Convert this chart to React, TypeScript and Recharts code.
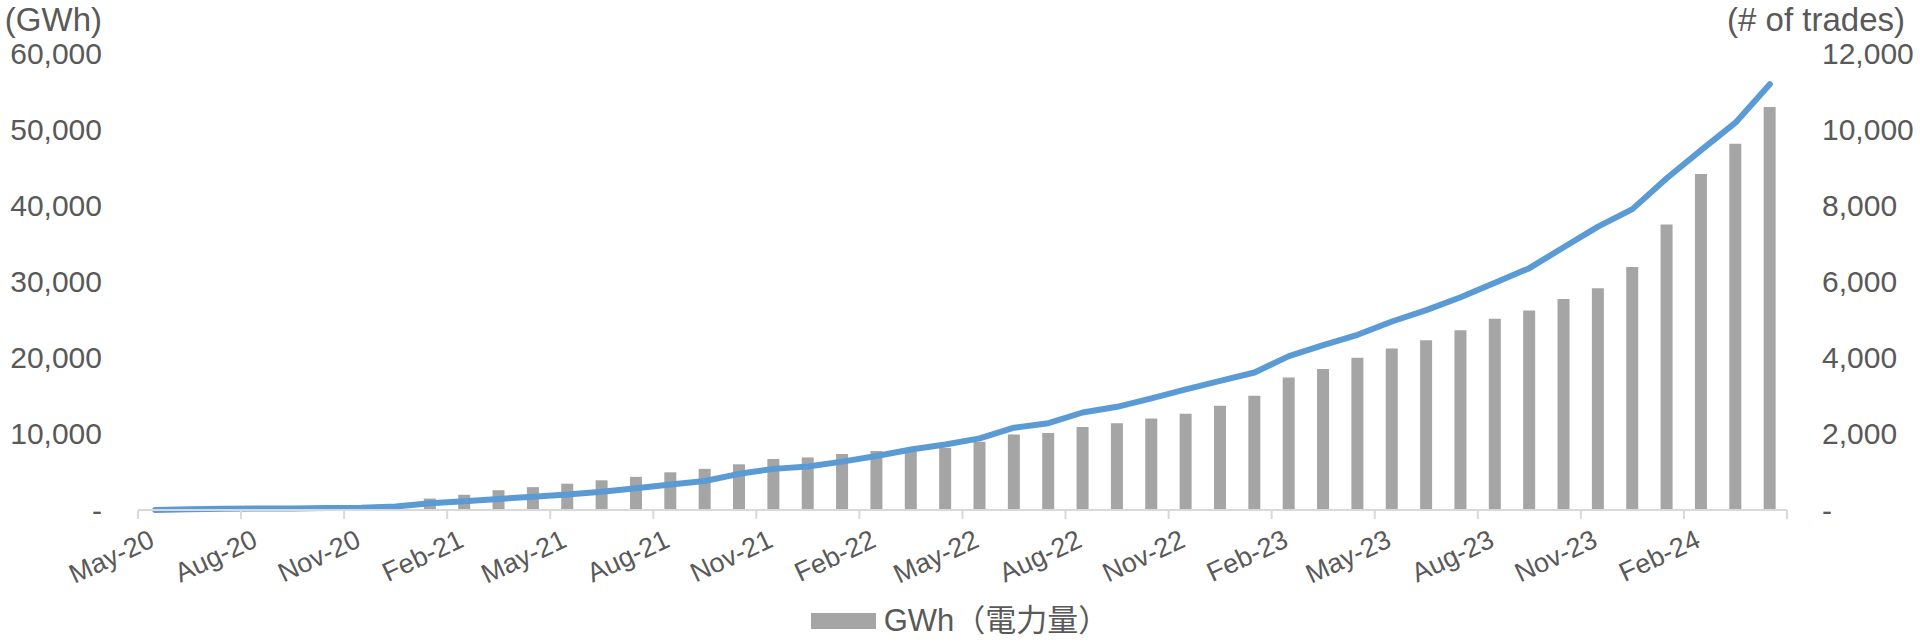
import React from 'react';
import { ComposedChart, Bar, Line, XAxis, YAxis, Legend } from 'recharts';

const months = [
  'May-20','Jun-20','Jul-20','Aug-20','Sep-20','Oct-20','Nov-20','Dec-20',
  'Jan-21','Feb-21','Mar-21','Apr-21','May-21','Jun-21','Jul-21','Aug-21','Sep-21','Oct-21','Nov-21','Dec-21',
  'Jan-22','Feb-22','Mar-22','Apr-22','May-22','Jun-22','Jul-22','Aug-22','Sep-22','Oct-22','Nov-22','Dec-22',
  'Jan-23','Feb-23','Mar-23','Apr-23','May-23','Jun-23','Jul-23','Aug-23','Sep-23','Oct-23','Nov-23','Dec-23',
  'Jan-24','Feb-24','Mar-24','Apr-24',
];

// GWh (電力量), left axis
const gwh = [
  50, 100, 150, 200, 250, 300, 400, 600,
  1500, 2000, 2600, 3000, 3450, 3900, 4350, 4950, 5400, 6000, 6700, 6900,
  7350, 7750, 7950, 8150, 8950, 9900, 10100, 10900, 11400, 12000, 12650, 13700,
  15000, 17400, 18500, 20000, 21200, 22300, 23600, 25100, 26200, 27700, 29100, 31900,
  37500, 44100, 48100, 52900,
];

// # of trades, right axis
const trades = [
  0, 20, 30, 40, 40, 50, 60, 90,
  180, 230, 290, 350, 410, 480, 570, 670, 760, 950, 1080, 1140,
  1270, 1420, 1590, 1720, 1880, 2160, 2280, 2560, 2710, 2930, 3170, 3390,
  3610, 4040, 4330, 4600, 4950, 5250, 5585, 5970, 6350, 6900, 7440, 7900,
  8710, 9450, 10170, 11180,
];

const leftTicks = [0, 10000, 20000, 30000, 40000, 50000, 60000];
const rightTicks = [0, 2000, 4000, 6000, 8000, 10000, 12000];

const data = months.map((m, i) => ({ month: m, gwh: gwh[i], trades: trades[i] }));

const W = 1920;
const H = 643;
const LEFT_W = 138;
const RIGHT_W = 133;
const PLOT_W = W - LEFT_W - RIGHT_W;
const TEXT = '#595959';
const AXIS = '#D9D9D9';
const FONT = '"Liberation Sans", Arial, "Noto Sans CJK JP", sans-serif';

const fmt = (v: number) => (v === 0 ? '-' : v.toLocaleString('en-US'));

const XTick = (props: any) => {
  const { x, y, payload, index } = props;
  const bw = PLOT_W / months.length;
  const els: any[] = [];
  if (index % 3 === 0) {
    els.push(
      <line key="t" x1={x - bw / 2} x2={x - bw / 2} y1={y} y2={y + 9} stroke={AXIS} strokeWidth={2} />
    );
    els.push(
      <text
        key="l"
        transform={`translate(${x + 1},${y + 36}) rotate(-25)`}
        textAnchor="end"
        fill={TEXT}
        fontSize={27}
        fontFamily={FONT}
      >
        {payload.value}
      </text>
    );
  }
  if (index === months.length - 1) {
    els.push(
      <line key="e" x1={x + bw / 2} x2={x + bw / 2} y1={y} y2={y + 9} stroke={AXIS} strokeWidth={2} />
    );
  }
  return <g>{els}</g>;
};

const LegendContent = (props: any) => {
  const items = (props.payload || []).filter((p: any) => p.type !== 'none');
  return (
    <div style={{ display: 'flex', justifyContent: 'center', alignItems: 'center', height: 30, margin: 0, padding: 0 }}>
      {items.map((p: any) => (
        <div key={p.value} style={{ display: 'flex', alignItems: 'center' }}>
          <span style={{ display: 'inline-block', width: 65, height: 16, background: '#A5A5A5', marginRight: 8 }} />
          <span style={{ fontSize: 31, color: TEXT, fontFamily: FONT, lineHeight: '30px' }}>{p.value}</span>
        </div>
      ))}
    </div>
  );
};

export default function App() {
  return (
    <div style={{ position: 'absolute', left: 0, top: 0, width: W, height: H, background: '#fff' }}>
      <ComposedChart width={W} height={H} data={data} margin={{ top: 53, right: 0, left: 0, bottom: 7 }}>
        <XAxis
          dataKey="month"
          interval={0}
          height={96}
          tickLine={false}
          tickSize={0}
          tickMargin={0}
          axisLine={{ stroke: AXIS, strokeWidth: 2 }}
          tick={<XTick />}
        />
        <YAxis
          yAxisId="left"
          orientation="left"
          width={LEFT_W}
          domain={[0, 60000]}
          ticks={leftTicks}
          interval={0}
          axisLine={false}
          tickLine={false}
          tickSize={0}
          tickMargin={36}
          tickFormatter={fmt}
          tick={{ fill: TEXT, fontSize: 30, fontFamily: FONT }}
          label={{
            content: (p: any) => {
              const vb = p.viewBox || { x: 0, y: 53, width: LEFT_W };
              return (
                <text x={vb.x + vb.width - 36} y={vb.y - 34} dy="0.355em" textAnchor="end" fill={TEXT} fontSize={33} fontFamily={FONT}>
                  (GWh)
                </text>
              );
            },
          }}
        />
        <YAxis
          yAxisId="right"
          orientation="right"
          width={RIGHT_W}
          domain={[0, 12000]}
          ticks={rightTicks}
          interval={0}
          axisLine={false}
          tickLine={false}
          tickSize={0}
          tickMargin={35}
          tickFormatter={fmt}
          tick={{ fill: TEXT, fontSize: 30, fontFamily: FONT }}
          label={{
            content: (p: any) => {
              const vb = p.viewBox || { x: W - RIGHT_W, y: 53, width: RIGHT_W };
              return (
                <text x={vb.x + 118} y={vb.y - 34} dy="0.355em" textAnchor="end" fill={TEXT} fontSize={33} fontFamily={FONT}>
                  (# of trades)
                </text>
              );
            },
          }}
        />
        <Legend verticalAlign="bottom" align="center" content={<LegendContent />} />
        <Bar yAxisId="left" dataKey="gwh" name="GWh（電力量）" fill="#A5A5A5" barSize={12} isAnimationActive={false} />
        <Line
          yAxisId="right"
          dataKey="trades"
          name="# of trades"
          type="linear"
          stroke="#5B9BD5"
          strokeWidth={6}
          strokeLinecap="round"
          strokeLinejoin="round"
          dot={false}
          activeDot={false}
          legendType="none"
          isAnimationActive={false}
        />
      </ComposedChart>
    </div>
  );
}
